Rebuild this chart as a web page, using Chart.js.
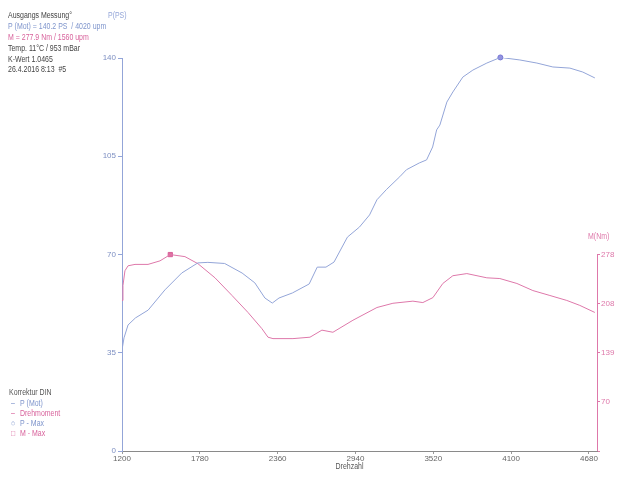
<!DOCTYPE html>
<html>
<head>
<meta charset="utf-8">
<script src="https://cdn.jsdelivr.net/npm/chart.js@4.4.1/dist/chart.umd.min.js"></script>
<style>
  html, body { margin: 0; background: #fff; }
</style>
</head>
<body>
<canvas id="grafico" width="640" height="478"></canvas>
<script>
// Leistung P (PS) ueber Drehzahl
const drehzahlP = [1200, 1215, 1245, 1300, 1395, 1520, 1645, 1765, 1840, 1965, 2095, 2190, 2265, 2320, 2370,
  2470, 2595, 2655, 2720, 2780, 2880, 2970, 3045, 3100, 3170, 3270, 3320, 3415, 3470, 3515, 3545, 3569,
  3621, 3666, 3740, 3815, 3919, 4020, 4165, 4292, 4411, 4538, 4634, 4724];
const leistung = [36.0, 40.3, 44.9, 47.4, 50.2, 57.4, 63.4, 67.0, 67.2, 66.8, 63.4, 59.9, 54.5, 52.7, 54.5,
  56.3, 59.5, 65.5, 65.5, 67.3, 76.2, 79.8, 84.1, 89.5, 93.1, 97.7, 100.2, 102.6, 103.7, 108.3, 114.4, 116.1,
  124.3, 127.9, 133.2, 135.7, 138.2, 140.2, 139.3, 138.2, 136.8, 136.4, 135.0, 132.9];

// Drehmoment M (Nm) ueber Drehzahl
const drehzahlM = [1200, 1207, 1222, 1245, 1297, 1394, 1483, 1560, 1669, 1766, 1893, 2020, 2139, 2243, 2288,
  2325, 2474, 2601, 2690, 2772, 2921, 3100, 3219, 3368, 3442, 3517, 3591, 3666, 3770, 3919, 4016, 4143,
  4262, 4389, 4515, 4612, 4724];
const drehmoment = [213, 234, 255, 262, 264, 264, 269, 277.9, 275, 265, 245, 220, 196, 173, 161,
  159, 159, 161, 171, 168, 185, 203, 209, 212, 210, 217, 237, 248, 251, 245, 244, 237,
  227, 220, 213, 206, 196];

const xTicks = [1200, 1780, 2360, 2940, 3520, 4100, 4680];
const pTicks = [0, 35, 70, 105, 140];
const mTicks = [0, 70, 139, 208, 278];
const pMax = { x: 4020, y: 140.2 };
const mMax = { x: 1560, y: 277.9 };

const kopf = [
  ['Ausgangs Messung°', '#444'],
  ['P (Mot) = 140.2 PS  / 4020 upm', '#7f95cc'],
  ['M = 277.9 Nm / 1560 upm', '#d8639c'],
  ['Temp. 11°C / 953 mBar', '#444'],
  ['K-Wert 1.0465', '#444'],
  ['26.4.2016 8:13  #5', '#444']
];
const legende = [
  ['', 'Korrektur DIN', '#555'],
  ['–', 'P (Mot)', '#7f95cc'],
  ['–', 'Drehmoment', '#d8639c'],
  ['○', 'P - Max', '#7f95cc'],
  ['□', 'M - Max', '#d8639c']
];

const blau = '#93a5d8';
const pink = '#de78aa';
const schrift = "'Liberation Sans', Arial, sans-serif";

// schmale Schrift wie im Original: horizontal gestaucht zeichnen
function schmalerText(ctx, text, x, y) {
  ctx.save();
  ctx.translate(x, y);
  ctx.scale(0.82, 1);
  ctx.fillText(text, 0, 0);
  ctx.restore();
}

const textePlugin = {
  id: 'texte',
  afterDraw(chart) {
    const ctx = chart.ctx;
    const y2 = chart.scales.y2;
    const x = chart.scales.x;
    // rechte Achse nur bis 278
    ctx.save();
    ctx.strokeStyle = pink;
    ctx.lineWidth = 1;
    ctx.beginPath();
    ctx.moveTo(y2.left + 0.5, y2.getPixelForValue(278));
    ctx.lineTo(y2.left + 0.5, y2.getPixelForValue(0));
    ctx.stroke();

    ctx.font = '8.5px ' + schrift;
    ctx.textBaseline = 'middle';
    kopf.forEach((z, i) => {
      ctx.fillStyle = z[1];
      schmalerText(ctx, z[0], 8, 16 + i * 10.8);
    });
    legende.forEach((z, i) => {
      ctx.fillStyle = z[2];
      const y = 393 + i * 10.2;
      if (z[0] === '') {
        schmalerText(ctx, z[1], 9, y);
      } else {
        schmalerText(ctx, z[0], 11, y);
        schmalerText(ctx, z[1], 20, y);
      }
    });
    ctx.fillStyle = blau;
    schmalerText(ctx, 'P(PS)', 108, 16);
    ctx.fillStyle = pink;
    schmalerText(ctx, 'M(Nm)', 588, 237);
    // Achsentitel unten
    ctx.fillStyle = '#555';
    ctx.textAlign = 'center';
    schmalerText(ctx, 'Drehzahl', (x.left + x.right) / 2 - 10, 467);
    ctx.restore();
  }
};

new Chart(document.getElementById('grafico'), {
  type: 'line',
  data: {
    datasets: [
      {
        label: 'P (Mot)',
        data: drehzahlP.map((d, i) => ({ x: d, y: leistung[i] })),
        borderColor: blau,
        borderWidth: 1,
        pointRadius: 0,
        tension: 0,
        yAxisID: 'y'
      },
      {
        label: 'Drehmoment',
        data: drehzahlM.map((d, i) => ({ x: d, y: drehmoment[i] })),
        borderColor: pink,
        borderWidth: 1,
        pointRadius: 0,
        tension: 0,
        yAxisID: 'y2'
      },
      {
        label: 'P - Max',
        data: [pMax],
        showLine: false,
        clip: false,
        pointStyle: 'circle',
        pointRadius: 2.5,
        backgroundColor: '#9393e0',
        borderColor: '#7474d4',
        borderWidth: 1,
        yAxisID: 'y'
      },
      {
        label: 'M - Max',
        data: [mMax],
        showLine: false,
        clip: false,
        pointStyle: 'rect',
        pointRadius: 3,
        backgroundColor: '#e0709f',
        borderColor: '#d8609a',
        borderWidth: 1,
        yAxisID: 'y2'
      }
    ]
  },
  options: {
    responsive: false,
    animation: false,
    devicePixelRatio: 1,
    layout: { padding: { top: 58, left: 0, right: 0, bottom: 0 } },
    plugins: { legend: { display: false }, tooltip: { enabled: false } },
    scales: {
      x: {
        type: 'linear',
        min: 1200,
        max: 4740,
        afterBuildTicks: s => { s.ticks = xTicks.map(v => ({ value: v })); },
        afterFit: s => { s.height = 27; },
        ticks: { color: '#666', font: { size: 8, family: schrift }, padding: 0, maxRotation: 0, autoSkip: false, callback: v => String(v) },
        grid: { drawOnChartArea: false, tickLength: 3, color: '#999' },
        border: { color: '#8a8a8a' }
      },
      y: {
        position: 'left',
        min: 0,
        max: 140,
        afterBuildTicks: s => { s.ticks = pTicks.map(v => ({ value: v })); },
        afterFit: s => { s.width = 122; },
        ticks: { color: '#7d8fc2', font: { size: 8, family: schrift }, padding: 2, callback: v => String(v) },
        grid: { drawOnChartArea: false, tickLength: 4, color: blau },
        border: { color: blau }
      },
      y2: {
        position: 'right',
        min: 0,
        max: 556,
        afterBuildTicks: s => { s.ticks = mTicks.map(v => ({ value: v })); },
        afterFit: s => { s.width = 43; },
        ticks: { color: pink, font: { size: 8, family: schrift }, padding: 1, callback: v => (v === 0 ? '' : String(v)) },
        grid: { drawOnChartArea: false, tickLength: 3, color: pink },
        border: { display: false }
      }
    }
  },
  plugins: [textePlugin]
});
</script>
</body>
</html>
